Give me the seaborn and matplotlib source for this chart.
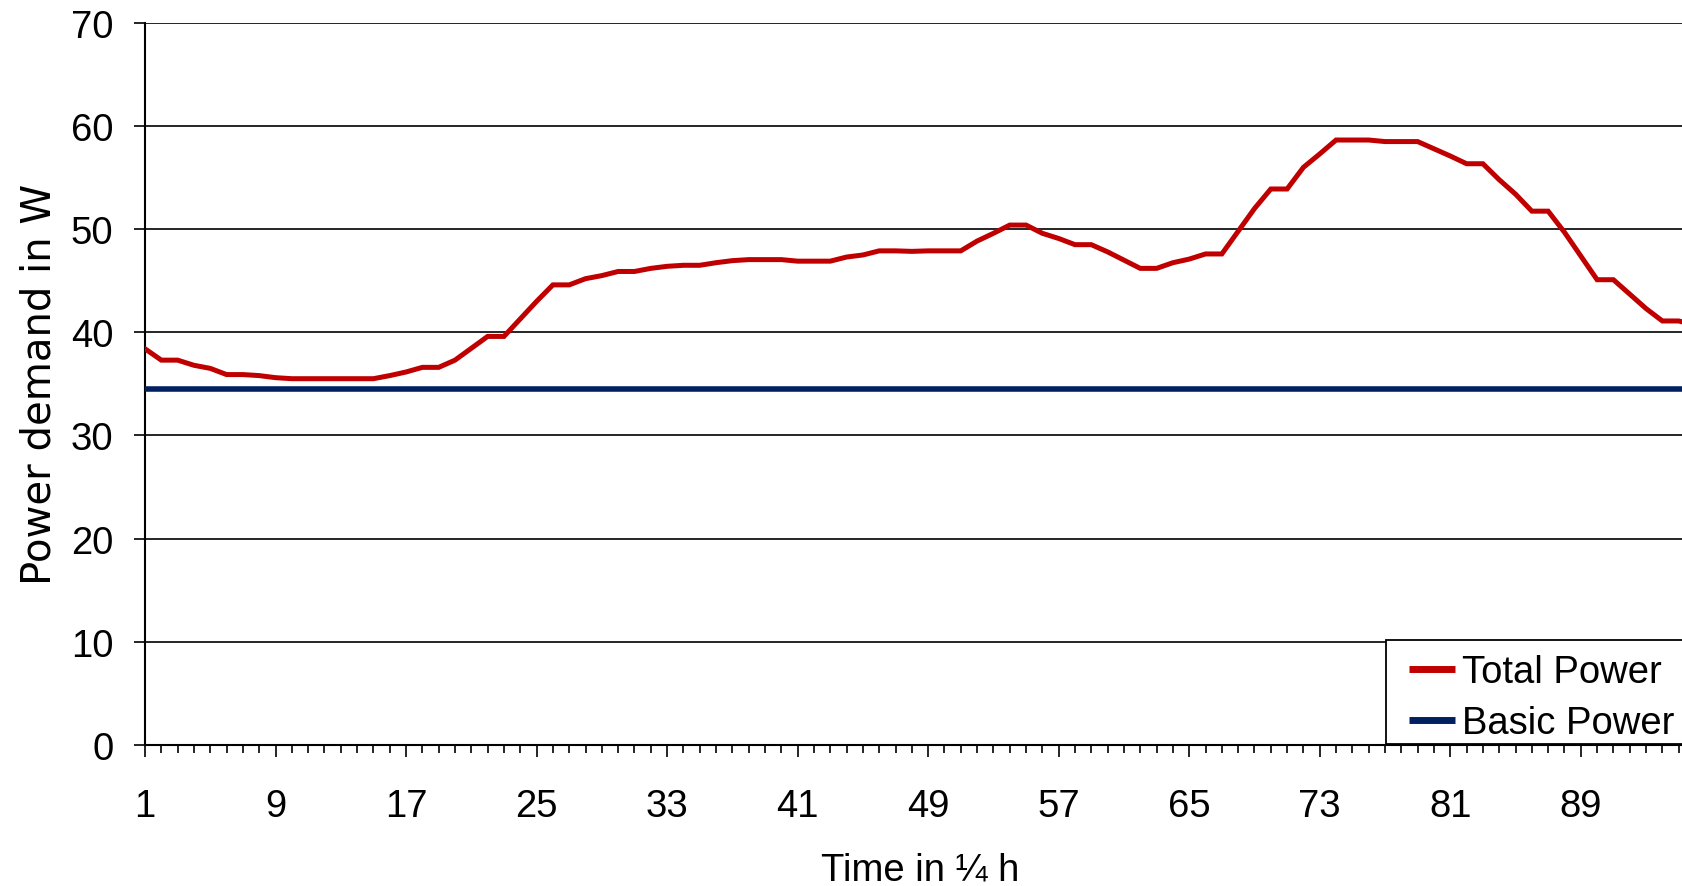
import numpy as np
import pandas as pd
import matplotlib
matplotlib.use("Agg")
import matplotlib.pyplot as plt
from matplotlib.patches import Rectangle
import seaborn as sns

# ---- data ----
time_steps = list(range(1, 97))
total_power = [
    38.4, 37.3, 37.3, 36.8, 36.5, 35.9, 35.9, 35.8, 35.6, 35.5,
    35.5, 35.5, 35.5, 35.5, 35.5, 35.8, 36.15, 36.6, 36.6, 37.3,
    38.45, 39.6, 39.6, 41.3, 43.0, 44.6, 44.6, 45.2, 45.5, 45.9,
    45.9, 46.2, 46.4, 46.5, 46.5, 46.75, 46.95, 47.05, 47.05, 47.05,
    46.9, 46.9, 46.9, 47.3, 47.5, 47.9, 47.9, 47.85, 47.9, 47.9,
    47.9, 48.85, 49.6, 50.4, 50.4, 49.6, 49.1, 48.5, 48.5, 47.8,
    47.0, 46.2, 46.2, 46.75, 47.1, 47.6, 47.6, 49.8, 52.0, 53.9,
    53.9, 56.0, 57.3, 58.65, 58.65, 58.65, 58.5, 58.5, 58.5, 57.8,
    57.1, 56.35, 56.35, 54.8, 53.4, 51.75, 51.75, 49.7, 47.4, 45.1,
    45.1, 43.7, 42.3, 41.1, 41.1, 40.7,
]
basic_power = [34.5] * len(time_steps)
series_names = ["Total Power", "Basic Power"]
y_ticks = [0, 10, 20, 30, 40, 50, 60, 70]
x_major_ticks = list(range(1, 97, 8))

df = pd.DataFrame({
    "t": time_steps * 2,
    "value": total_power + basic_power,
    "series": [series_names[0]] * len(time_steps) + [series_names[1]] * len(time_steps),
})

sns.set_style("white")
plt.rcParams["font.family"] = ["Liberation Sans", "DejaVu Sans"]
for k in ("text.color", "axes.labelcolor", "xtick.color", "ytick.color"):
    plt.rcParams[k] = "black"

FS = 27.5
W, H = 1682, 887
fig = plt.figure(figsize=(W / 100, H / 100), dpi=100)
ax_left, ax_right, ax_top, ax_bottom = 145, 1695, 24, 745.7
ax = fig.add_axes([ax_left / W, (H - ax_bottom) / H,
                   (ax_right - ax_left) / W, (ax_bottom - ax_top) / H])

palette = {"Total Power": "#C00000", "Basic Power": "#002060"}
sns.lineplot(data=df, x="t", y="value", hue="series", palette=palette,
             linewidth=3.6, ax=ax, legend=True, zorder=3)
for ln in ax.get_lines():
    if ln.get_color() == "#002060":
        ln.set_linewidth(4.0)
    ln.set_solid_joinstyle("miter")

ax.set_xlim(1, 96)
ax.set_ylim(0, 70)
ax.set_yticks(y_ticks)
ax.set_xticks(x_major_ticks)
ax.set_xticks(time_steps, minor=True)

ax.grid(axis="y", color="black", linewidth=1.2, zorder=1)
ax.grid(axis="x", visible=False)
ax.set_axisbelow(True)

for side in ("top", "right"):
    ax.spines[side].set_visible(False)
for side in ("left", "bottom"):
    ax.spines[side].set_color("black")
    ax.spines[side].set_linewidth(1.5)

ax.tick_params(axis="x", which="major", direction="out", length=8.3, width=1.2,
               color="black", pad=23, labelsize=FS, bottom=True)
ax.tick_params(axis="x", which="minor", direction="out", length=5.5, width=1.2,
               color="black", bottom=True)
ax.tick_params(axis="y", which="major", direction="out", length=7.9, width=1.2,
               color="black", pad=14.8, labelsize=FS, left=True)

ax.set_xlabel("Time in ¼ h", fontsize=FS, labelpad=20)
ax.set_ylabel("Power demand in W", fontsize=29, labelpad=8.5,
              family=["DejaVu Sans"])

# legend frame (square box sitting on the x axis, running past the right edge)
frame = Rectangle((1386 / W, (H - 744.5) / H), (1720 - 1386) / W, 103.5 / H,
                  transform=fig.transFigure, facecolor="white",
                  edgecolor="black", linewidth=1.3, zorder=4, clip_on=False)
ax.add_artist(frame)

leg = ax.legend(loc="upper left", bbox_to_anchor=(1409 / W, (H - 655) / H),
                bbox_transform=fig.transFigure, borderaxespad=0, borderpad=0,
                fontsize=FS, frameon=False, handlelength=1.2,
                handletextpad=0.2, labelspacing=0.4)
for h in leg.get_lines():
    h.set_linewidth(5)
    h.set_solid_capstyle("butt")
leg.set_zorder(6)

fig.savefig("out.png", dpi=100)
